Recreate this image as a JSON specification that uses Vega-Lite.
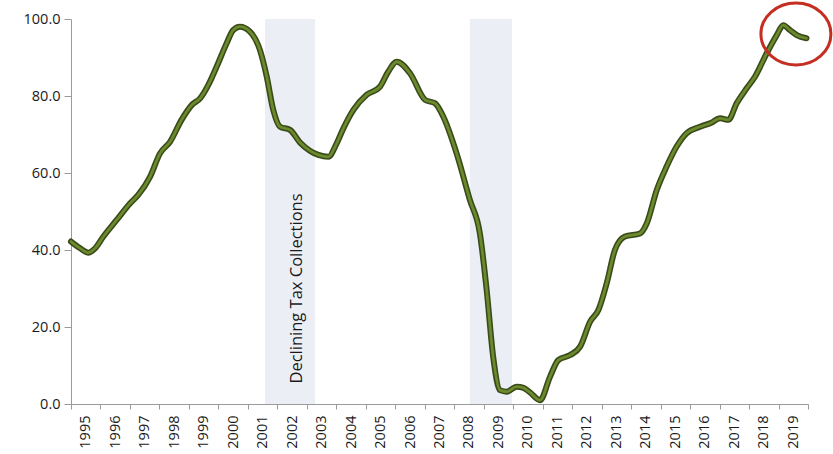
{
  "$schema": "https://vega.github.io/schema/vega-lite/v6.json",
  "autosize": "none",
  "width": 737,
  "height": 385,
  "padding": {"left": 71, "top": 19, "right": 25, "bottom": 50},
  "background": "white",
  "config": {"view": {"stroke": null}, "font": "Open Sans", "axis": {"labelOverlap": false, "labelFlush": false, "labelBound": false}, "axisX": {"labelOverlap": false}, "axisQuantitative": {"labelOverlap": false}},
  "datasets": {
    "series": [
      {"year": 1995.0, "value": 42.2}, {"year": 1995.3, "value": 40.5}, {"year": 1995.59, "value": 39.3},
      {"year": 1995.8, "value": 40.3}, {"year": 1996.1, "value": 43.5}, {"year": 1996.55, "value": 47.8},
      {"year": 1997.0, "value": 52.1}, {"year": 1997.28, "value": 54.3}, {"year": 1997.68, "value": 59.0},
      {"year": 1998.02, "value": 65.1}, {"year": 1998.36, "value": 68.1}, {"year": 1998.75, "value": 73.8},
      {"year": 1999.1, "value": 77.7}, {"year": 1999.38, "value": 79.4}, {"year": 1999.66, "value": 82.9},
      {"year": 1999.94, "value": 87.6}, {"year": 2000.28, "value": 93.7}, {"year": 2000.5, "value": 97.1},
      {"year": 2000.73, "value": 98.0}, {"year": 2001.07, "value": 96.7}, {"year": 2001.41, "value": 91.9},
      {"year": 2001.64, "value": 85.0}, {"year": 2001.86, "value": 76.4}, {"year": 2002.09, "value": 72.0},
      {"year": 2002.43, "value": 71.2}, {"year": 2002.77, "value": 67.9}, {"year": 2003.1, "value": 65.8},
      {"year": 2003.39, "value": 64.7}, {"year": 2003.73, "value": 64.2}, {"year": 2004.0, "value": 67.5},
      {"year": 2004.24, "value": 71.6}, {"year": 2004.58, "value": 76.4}, {"year": 2005.03, "value": 80.3},
      {"year": 2005.48, "value": 82.4}, {"year": 2005.76, "value": 86.3}, {"year": 2006.05, "value": 88.9},
      {"year": 2006.5, "value": 85.9}, {"year": 2007.01, "value": 79.0}, {"year": 2007.35, "value": 78.1},
      {"year": 2007.63, "value": 74.6}, {"year": 2008.08, "value": 65.1}, {"year": 2008.53, "value": 53.0},
      {"year": 2008.87, "value": 44.3}, {"year": 2009.1, "value": 29.6}, {"year": 2009.32, "value": 12.3},
      {"year": 2009.55, "value": 3.6}, {"year": 2009.78, "value": 3.2}, {"year": 2010.12, "value": 4.5},
      {"year": 2010.35, "value": 4.2}, {"year": 2010.57, "value": 3.0}, {"year": 2010.91, "value": 1.0},
      {"year": 2011.25, "value": 7.1}, {"year": 2011.53, "value": 11.4}, {"year": 2011.93, "value": 12.7},
      {"year": 2012.27, "value": 14.9}, {"year": 2012.61, "value": 21.4}, {"year": 2012.89, "value": 24.4},
      {"year": 2013.17, "value": 31.3}, {"year": 2013.45, "value": 40.0}, {"year": 2013.79, "value": 43.5},
      {"year": 2014.3, "value": 44.3}, {"year": 2014.53, "value": 46.9}, {"year": 2014.87, "value": 55.6},
      {"year": 2015.2, "value": 61.6}, {"year": 2015.54, "value": 66.8}, {"year": 2015.88, "value": 70.3},
      {"year": 2016.34, "value": 72.0}, {"year": 2016.7, "value": 73.0}, {"year": 2017.02, "value": 74.2},
      {"year": 2017.3, "value": 73.8}, {"year": 2017.58, "value": 78.1}, {"year": 2017.92, "value": 82.0},
      {"year": 2018.2, "value": 85.0}, {"year": 2018.6, "value": 91.1}, {"year": 2018.94, "value": 95.8},
      {"year": 2019.16, "value": 98.4}, {"year": 2019.39, "value": 97.1}, {"year": 2019.62, "value": 95.8},
      {"year": 2019.95, "value": 95.0}
    ],
    "bands": [
      {"start": 2001.58, "end": 2003.28, "top": 100, "bottom": 0},
      {"start": 2008.53, "end": 2009.96, "top": 100, "bottom": 0}
    ],
    "note": [
      {"year": 2002.67, "value": 30.0, "label": "Declining Tax Collections"}
    ],
    "highlight": [
      {"year": 2019.59, "value": 96.1}
    ]
  },
  "encoding": {
    "x": {"type": "quantitative", "scale": {"domain": [1995, 2020], "nice": false, "zero": false},
      "axis": {
        "values": [1995,1996,1997,1998,1999,2000,2001,2002,2003,2004,2005,2006,2007,2008,2009,2010,2011,2012,2013,2014,2015,2016,2017,2018,2019,2020],
        "labelExpr": "datum.value == 2020 ? '' : format(datum.value, 'd')",
        "labelAngle": -90,
        "labelOffset": 14.74,
        "labelOverlap": false,
        "labelFontSize": 14.5,
        "labelColor": "#1a1a1a",
        "labelPadding": 6,
        "domainColor": "#9a9a9a",
        "tickColor": "#9a9a9a",
        "tickSize": 5,
        "grid": false,
        "title": null
      }
    },
    "y": {"type": "quantitative", "scale": {"domain": [0, 100], "nice": false},
      "axis": {
        "values": [0, 20, 40, 60, 80, 100],
        "format": ".1f",
        "labelFontSize": 14.5,
        "labelColor": "#1a1a1a",
        "labelPadding": 4,
        "domainColor": "#9a9a9a",
        "tickColor": "#9a9a9a",
        "tickSize": 7,
        "grid": false,
        "title": null
      }
    }
  },
  "layer": [
    {
      "data": {"name": "bands"},
      "mark": {"type": "rect", "color": "#eceef5"},
      "encoding": {
        "x": {"field": "start"},
        "x2": {"field": "end"},
        "y": {"field": "top"},
        "y2": {"field": "bottom"}
      }
    },
    {
      "data": {"name": "note"},
      "mark": {"type": "text", "angle": 270, "fontSize": 16.5, "color": "#1a1a1a", "align": "center", "baseline": "middle"},
      "encoding": {
        "x": {"field": "year"},
        "y": {"field": "value"},
        "text": {"field": "label"}
      }
    },
    {
      "data": {"name": "series"},
      "mark": {"type": "line", "color": "#3b4a1b", "strokeWidth": 6, "interpolate": "monotone", "strokeCap": "round", "strokeJoin": "round"},
      "encoding": {
        "x": {"field": "year"},
        "y": {"field": "value"}
      }
    },
    {
      "data": {"name": "series"},
      "mark": {"type": "line", "color": "#6a8a2c", "strokeWidth": 2.8, "interpolate": "monotone", "strokeCap": "round", "strokeJoin": "round"},
      "encoding": {
        "x": {"field": "year"},
        "y": {"field": "value"}
      }
    },
    {
      "data": {"name": "highlight"},
      "mark": {"type": "point", "shape": "M-1,0A1,0.886,0,1,0,1,0A1,0.886,0,1,0,-1,0Z", "size": 4900, "filled": false, "stroke": "#c42f22", "strokeWidth": 3, "opacity": 1},
      "encoding": {
        "x": {"field": "year"},
        "y": {"field": "value"}
      }
    }
  ]
}
